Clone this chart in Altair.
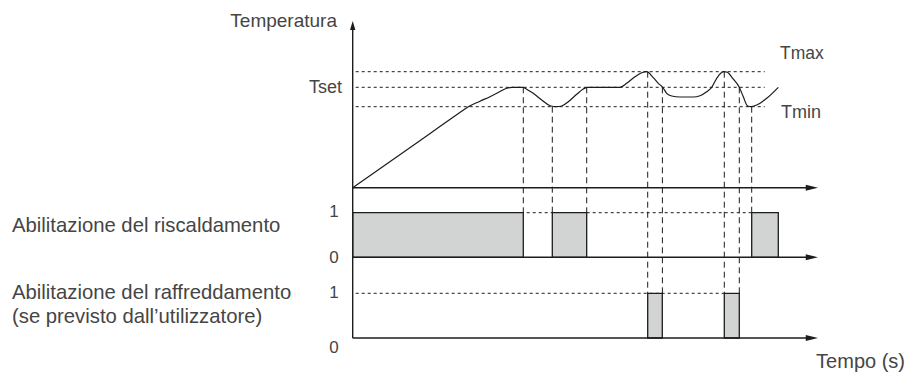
import altair as alt
import pandas as pd

# ---------------- data ----------------
# temperature curve: time (arbitrary units from origin) and temperature (units above axis)
curve_t = [0, 30, 60, 90, 105, 115.6, 127.3, 137.3, 147.3, 153.3, 159.3, 170.6, 172.3, 180.6,
           189.0, 197.3, 204.0, 209.0, 215.6, 224.0, 230.6, 234.6, 267.3, 274.0, 282.3, 289.0,
           294.0, 300.6, 305.6, 310.0, 314.0, 319.0, 327.3, 340.6, 347.3, 354.0, 359.0, 364.0,
           368.0, 371.3, 374.6, 380.0, 386.6, 390.6, 394.6, 398.0, 404.0, 414.0, 425.6]
curve_T = [0, 21.0, 42.0, 63.1, 73.6, 81.0, 86.5, 91.0, 96.2, 99.2, 100.4, 100.4, 99.4, 94.4,
           87.7, 82.0, 81.0, 81.7, 86.0, 93.4, 98.7, 100.4, 100.4, 104.4, 111.0, 115.0,
           116.0, 110.0, 104.4, 100.4, 94.4, 91.7, 90.7, 90.7, 92.0, 96.0, 100.4, 109.4,
           114.4, 116.0, 115.4, 109.4, 100.4, 91.0, 82.0, 81.0, 82.7, 89.4, 100.4]

T_MAX = 116.0
T_SET = 100.4
T_MIN = 81.0
level_names = ["Tmax", "Tset", "Tmin"]
level_values = [T_MAX, T_SET, T_MIN]

# heating / cooling enabled intervals
heat_start = [0, 199.6, 399.0]
heat_end = [170.6, 234.0, 425.6]
cool_start = [295.0, 371.6]
cool_end = [309.6, 386.6]

# switching instants: time, temperature level, which output
event_t = [170.6, 199.6, 234.0, 295.0, 309.7, 371.6, 386.6, 399.0]
event_T = [T_SET, T_MIN, T_SET, T_MAX, T_SET, T_MAX, T_SET, T_MIN]
event_out = ["heat", "heat", "heat", "cool", "cool", "cool", "cool", "heat"]

T_END = 465.3        # end of time axes (arrow tips)
T_LINE_END = 412.0   # end of dashed reference lines

# ---------------- layout (pixels) ----------------
W, H = 907, 372
X0 = 352.7            # pixel x of time 0
TEMP_Y0 = 187.7       # pixel y of temperature 0
HEAT_Y0, HEAT_Y1 = 257.3, 212.7
COOL_Y0, COOL_Y1 = 338.0, 293.3
YAXIS_TOP = 21.0

INK = "#1c1c1c"
TXT = "#454545"
FILL = "#d2d4d3"
FONT = "Liberation Sans"

def temp_py(T):
    return TEMP_Y0 - T

def heat_py(s):
    return HEAT_Y0 - (HEAT_Y0 - HEAT_Y1) * s

def cool_py(s):
    return COOL_Y0 - (COOL_Y0 - COOL_Y1) * s

xs = alt.Scale(domain=[-X0, W - X0], nice=False, zero=False)
ys = alt.Scale(domain=[H, 0], nice=False, zero=False)
X = lambda f: alt.X(f, type="quantitative", scale=xs, axis=None)
Y = lambda f: alt.Y(f, type="quantitative", scale=ys, axis=None)

# curve
curve_df = pd.DataFrame({"t": curve_t, "py": [temp_py(v) for v in curve_T]})
curve = alt.Chart(curve_df).mark_line(color=INK, strokeWidth=1.2, interpolate="monotone").encode(
    x=X("t"), y=Y("py"))

# dashed temperature levels
lev_df = pd.DataFrame({"name": level_names, "t": [3] * 3, "t2": [T_LINE_END] * 3,
                       "py": [temp_py(v) for v in level_values]})
levels = alt.Chart(lev_df).mark_rule(color=INK, strokeWidth=1, strokeDash=[3, 3]).encode(
    x=X("t"), x2="t2", y=Y("py"))

# dashed level-1 lines in heating / cooling strips
on_df = pd.DataFrame({"t": [0, 3], "t2": [heat_start[2], cool_start[1]],
                      "py": [heat_py(1), cool_py(1)]})
on_lines = alt.Chart(on_df).mark_rule(color=INK, strokeWidth=1, strokeDash=[3, 3]).encode(
    x=X("t"), x2="t2", y=Y("py"))

# vertical event lines
ev_df = pd.DataFrame({"t": event_t,
                      "py": [temp_py(v) for v in event_T],
                      "py2": [heat_py(1) if o == "heat" else cool_py(1) for o in event_out]})
events = alt.Chart(ev_df).mark_rule(color=INK, strokeWidth=1, strokeDash=[6, 4]).encode(
    x=X("t"), y=Y("py"), y2="py2")

# bars
bars_df = pd.DataFrame({
    "t": heat_start + cool_start,
    "t2": heat_end + cool_end,
    "py": [heat_py(1)] * 3 + [cool_py(1)] * 2,
    "py2": [heat_py(0)] * 3 + [cool_py(0)] * 2,
})
bars = alt.Chart(bars_df).mark_rect(fill=FILL, stroke=INK, strokeWidth=1.3).encode(
    x=X("t"), x2="t2", y=Y("py"), y2="py2")

# axes lines
ax_df = pd.DataFrame({"t": [0, 0, 0], "t2": [T_END - 8] * 3,
                      "py": [TEMP_Y0, HEAT_Y0, COOL_Y0]})
haxes = alt.Chart(ax_df).mark_rule(color=INK, strokeWidth=1.4).encode(
    x=X("t"), x2="t2", y=Y("py"))
vax_df = pd.DataFrame({"t": [0], "py": [YAXIS_TOP + 6], "py2": [COOL_Y0]})
vaxis = alt.Chart(vax_df).mark_rule(color=INK, strokeWidth=1.4).encode(
    x=X("t"), y=Y("py"), y2="py2")

# arrow heads
right_path = "M1,0L-0.75,0.42L-0.75,-0.42Z"
up_path = "M0,-1L0.45,0.5L-0.45,0.5Z"
arr_r_df = pd.DataFrame({"t": [T_END - 7] * 3, "py": [TEMP_Y0, HEAT_Y0, COOL_Y0]})
arr_r = alt.Chart(arr_r_df).mark_point(shape=right_path, filled=True, size=196, color=INK,
                                       opacity=1, strokeWidth=0).encode(x=X("t"), y=Y("py"))
arr_u_df = pd.DataFrame({"t": [0], "py": [YAXIS_TOP + 6]})
arr_u = alt.Chart(arr_u_df).mark_point(shape=up_path, filled=True, size=144, color=INK,
                                       opacity=1, strokeWidth=0).encode(x=X("t"), y=Y("py"))

# texts
def label(text, x, y, size, align="left"):
    return alt.Chart(pd.DataFrame({"s": [text]})).mark_text(
        font=FONT, fontSize=size, color=TXT, align=align, baseline="middle").encode(
        x=alt.value(x), y=alt.value(y), text="s:N")

texts = [
    label("Temperatura", 337, 21, 19, "right"),
    label("Tset", 342, 88, 18, "right"),
    label("Tmax", 780, 54, 17.5),
    label("Tmin", 781, 113, 18),
    label("1", 334, 212, 17, "center"),
    label("0", 334, 258, 17, "center"),
    label("1", 334, 293, 17, "center"),
    label("0", 334, 348, 17, "center"),
    label("Abilitazione del riscaldamento", 12, 226, 20.3),
    label("Abilitazione del raffreddamento", 12, 293, 20.3),
    label("(se previsto dall\u2019utilizzatore)", 12, 317, 20.3),
    label("Tempo (s)", 905, 362, 20, "right"),
]

chart = alt.layer(levels, on_lines, events, bars, curve, haxes, vaxis, arr_r, arr_u, *texts).properties(
    width=W, height=H, autosize=alt.AutoSizeParams(type="none"), padding=0,
    background="white").configure_view(stroke=None)

chart.save("out.html", embed_options={"renderer": "svg", "actions": False})
